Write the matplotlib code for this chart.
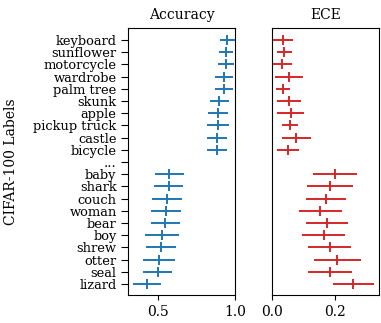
import numpy as np
import matplotlib
matplotlib.use("Agg")
import matplotlib.pyplot as plt

plt.rcParams['font.family'] = ['DejaVu Serif']

labels = ["keyboard", "sunflower", "motorcycle", "wardrobe", "palm tree", "skunk",
          "apple", "pickup truck", "castle", "bicycle", "...",
          "baby", "shark", "couch", "woman", "bear", "boy", "shrew", "otter", "seal", "lizard"]

acc_mean = [0.950, 0.942, 0.942, 0.927, 0.927, 0.899, 0.890, 0.888, 0.884, 0.882, np.nan,
            0.575, 0.571, 0.560, 0.552, 0.547, 0.526, 0.521, 0.509, 0.500, 0.429]
acc_err = [0.047, 0.044, 0.054, 0.058, 0.058, 0.060, 0.065, 0.070, 0.065, 0.063, np.nan,
           0.096, 0.095, 0.098, 0.097, 0.094, 0.109, 0.099, 0.103, 0.095, 0.089]

ece_mean = [0.037, 0.040, 0.034, 0.055, 0.036, 0.055, 0.060, 0.059, 0.078, 0.052, np.nan,
            0.201, 0.185, 0.172, 0.153, 0.174, 0.165, 0.184, 0.207, 0.184, 0.258]
ece_err = [0.032, 0.023, 0.031, 0.043, 0.023, 0.039, 0.042, 0.025, 0.046, 0.034, np.nan,
           0.069, 0.072, 0.063, 0.068, 0.066, 0.068, 0.068, 0.074, 0.070, 0.065]

n = len(labels)
ypos = np.arange(n)[::-1]

fig = plt.figure(figsize=(3.81, 3.23), dpi=100)
ax1 = fig.add_axes([0.337, 0.0867, 0.280, 0.8276])
ax2 = fig.add_axes([0.713, 0.0867, 0.2824, 0.8276])

fs = 10
fs_y = 9.4
ax1.errorbar(acc_mean, ypos, xerr=acc_err, fmt='|', color='#1f77b4', ms=7, mew=1.4, elinewidth=1.4)
ax2.errorbar(ece_mean, ypos, xerr=ece_err, fmt='|', color='#d62728', ms=7, mew=1.4, elinewidth=1.4)

ax1.set_yticks(ypos)
ax1.set_yticklabels(labels, fontsize=fs_y)
ax1.set_ylim(-0.9, n - 1 + 1.0)
ax1.set_xlim(0.31, 1.0)
ax1.set_xticks([0.5, 1.0])
ax1.set_xticklabels(["0.5", "1.0"], fontsize=fs)
ax1.set_title("Accuracy", fontsize=fs)
ax1.set_ylabel("CIFAR-100 Labels", fontsize=fs)
ax1.yaxis.set_label_coords(-1.035, 0.5)
ax1.tick_params(axis='y', length=5)

ax2.set_ylim(-0.9, n - 1 + 1.0)
ax2.set_yticks([])
ax2.set_xlim(0.0, 0.34)
ax2.set_xticks([0.0, 0.2])
ax2.set_xticklabels(["0.0", "0.2"], fontsize=fs)
ax2.set_title("ECE", fontsize=fs)

fig.savefig("out.png", dpi=100)
